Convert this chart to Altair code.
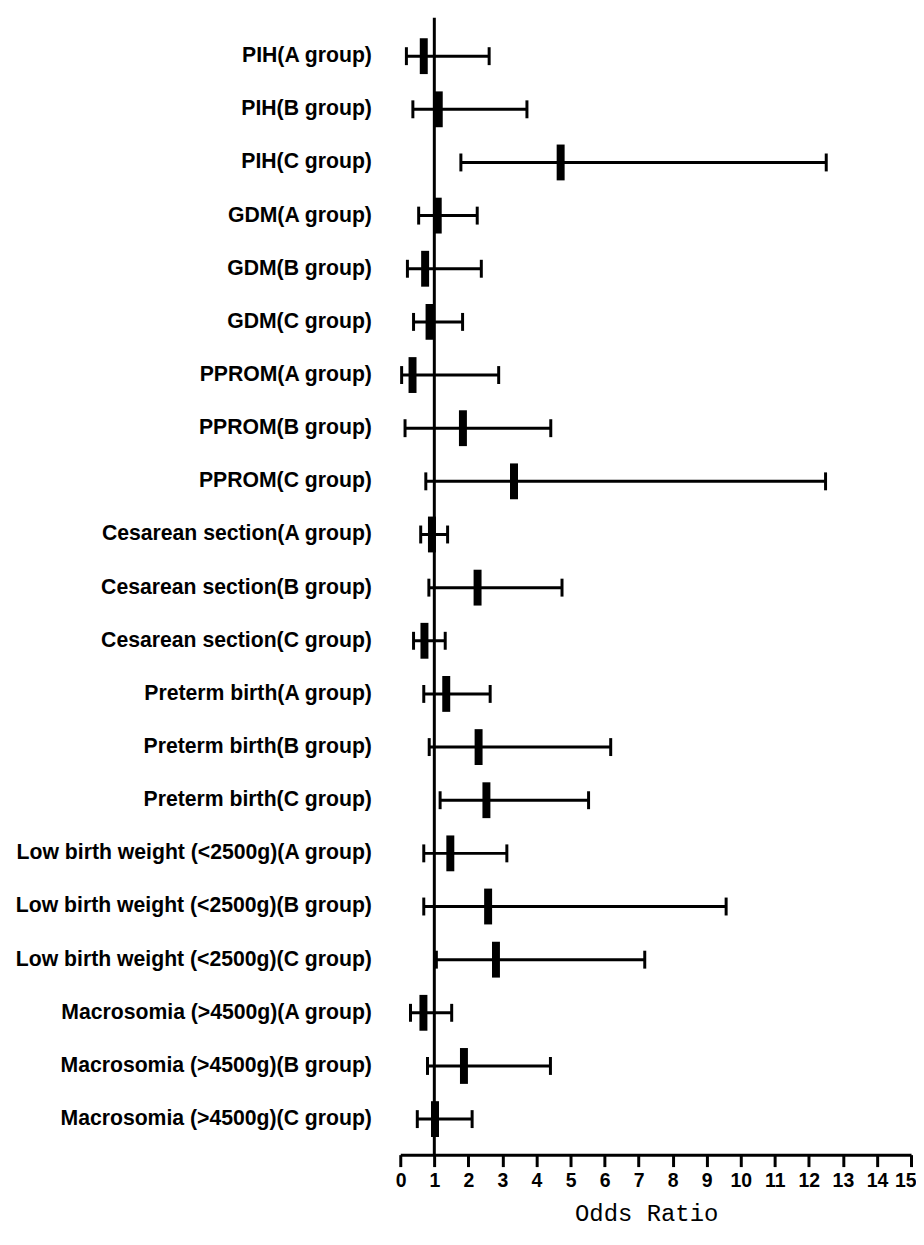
import altair as alt
import pandas as pd

outcomes = [
    "PIH(A group)", "PIH(B group)", "PIH(C group)",
    "GDM(A group)", "GDM(B group)", "GDM(C group)",
    "PPROM(A group)", "PPROM(B group)", "PPROM(C group)",
    "Cesarean section(A group)", "Cesarean section(B group)", "Cesarean section(C group)",
    "Preterm birth(A group)", "Preterm birth(B group)", "Preterm birth(C group)",
    "Low birth weight (<2500g)(A group)", "Low birth weight (<2500g)(B group)",
    "Low birth weight (<2500g)(C group)",
    "Macrosomia (>4500g)(A group)", "Macrosomia (>4500g)(B group)", "Macrosomia (>4500g)(C group)",
]
odds_ratio = [0.69, 1.13, 4.71, 1.10, 0.73, 0.86, 0.36, 1.84, 3.34, 0.93, 2.27, 0.71,
              1.35, 2.30, 2.53, 1.47, 2.58, 2.81, 0.68, 1.87, 1.02]
ci_low = [0.18, 0.37, 1.78, 0.54, 0.21, 0.39, 0.04, 0.14, 0.75, 0.60, 0.84, 0.39,
          0.69, 0.85, 1.17, 0.69, 0.69, 1.06, 0.30, 0.80, 0.50]
ci_high = [2.61, 3.72, 12.51, 2.26, 2.38, 1.83, 2.89, 4.42, 12.49, 1.39, 4.75, 1.32,
           2.64, 6.18, 5.53, 3.13, 9.57, 7.18, 1.51, 4.41, 2.11]
x_ticks = list(range(0, 16))
ref_value = [1]

df = pd.DataFrame({"outcome": outcomes, "OR": odds_ratio, "lo": ci_low, "hi": ci_high})

W = 513
STEP = 53.4
H = round(STEP * len(outcomes))  # 1121
AXIS_OFFSET = 9
TOP_EXTRA = 12

yenc = alt.Y(
    "outcome:N",
    sort=outcomes,
    scale=alt.Scale(type="band", paddingInner=0, paddingOuter=0),
    axis=alt.Axis(
        title=None, domain=False, ticks=False, labelPadding=29,
        labelFont="Liberation Sans", labelFontWeight="bold", labelFontSize=21.3,
        labelColor="black", labelLimit=0,
    ),
)
xscale = alt.Scale(domain=[0, 15], nice=False, zero=False)
xaxis = alt.Axis(
    title="Odds Ratio", values=x_ticks, grid=False, offset=AXIS_OFFSET,
    domainColor="black", domainWidth=3, tickColor="black", tickWidth=3, tickSize=12,
    labelFont="Liberation Sans", labelFontWeight="bold", labelFontSize=19.5,
    labelColor="black", labelPadding=5, labelFlush=True, labelFlushOffset=5,
    labelOverlap=False,
    titleFont="Liberation Mono", titleFontWeight="normal", titleFontSize=24,
    titleColor="black", titlePadding=12, titleX=247,
)

base = alt.Chart(df)

ref = alt.Chart(pd.DataFrame({"v": ref_value})).mark_rule(
    color="black", strokeWidth=3
).encode(
    x=alt.X("v:Q", scale=xscale, axis=xaxis),
    y=alt.value(-TOP_EXTRA), y2=alt.value(H + AXIS_OFFSET),
)

whisk = base.mark_rule(color="black", strokeWidth=3).encode(
    x=alt.X("lo:Q", scale=xscale, axis=xaxis), x2="hi:Q", y=yenc
)
cap_lo = base.mark_tick(color="black", thickness=3, size=18, orient="vertical", opacity=1).encode(
    x=alt.X("lo:Q", scale=xscale, axis=xaxis), y=yenc
)
cap_hi = base.mark_tick(color="black", thickness=3, size=18, orient="vertical", opacity=1).encode(
    x=alt.X("hi:Q", scale=xscale, axis=xaxis), y=yenc
)
box = base.mark_tick(color="black", thickness=8, size=36, orient="vertical", opacity=1).encode(
    x=alt.X("OR:Q", scale=xscale, axis=xaxis), y=yenc
)

chart = alt.layer(ref, whisk, cap_lo, cap_hi, box).properties(
    width=W, height=H, background="white",
    padding={"left": 7, "top": 5, "right": 0, "bottom": 0},
).configure_view(strokeWidth=0, stroke=None)

chart.save("out.html", embed_options={"renderer": "svg", "actions": False})
